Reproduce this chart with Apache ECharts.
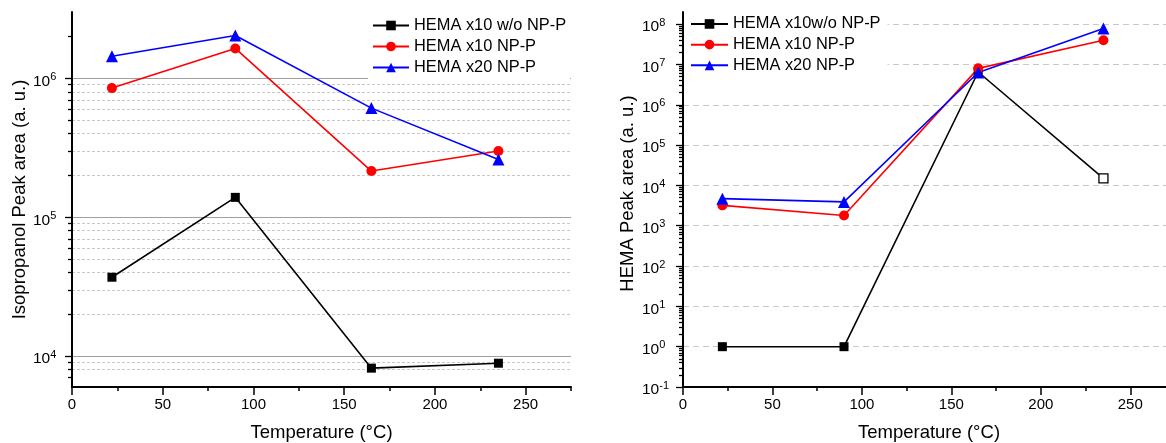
<!DOCTYPE html>
<html><head><meta charset="utf-8">
<script src="https://cdn.jsdelivr.net/npm/echarts@6/dist/echarts.min.js"></script>
<style>html,body{margin:0;padding:0;background:#fff}#c{width:1166px;height:443px}</style>
</head><body><div id="c"></div>
<script>
// ---------- data ----------
const temps = [22, 90, 165, 235];
const leftNames = ['HEMA x10 w/o NP-P', 'HEMA x10 NP-P', 'HEMA x20 NP-P'];
const rightNames = ['HEMA x10w/o NP-P', 'HEMA x10 NP-P', 'HEMA x20 NP-P'];
// Left chart: Isopropanol peak area
const isoBlack = [3.7e4, 1.39e5, 8.2e3, 8.9e3];
const isoRed = [8.5e5, 1.64e6, 2.15e5, 3.0e5];
const isoBlue = [1.44e6, 2.03e6, 6.1e5, 2.6e5];
// Right chart: HEMA peak area
const hemaBlack = [1, 1, 6.5e6, 1.5e4];
const hemaRed = [3.2e3, 1.8e3, 8.0e6, 4.0e7];
const hemaBlue = [4.7e3, 3.9e3, 6.3e6, 7.8e7];
// axes
const xMin = 0, xMax = 275, xMinorStep = 25, xMajorTicks = [0, 50, 100, 150, 200, 250];
const leftYMin = 6000, leftYMax = 3e6;
const rightYMin = 0.1, rightYMax = 2e8;
const xTitle = 'Temperature (°C)';
const leftYTitle = 'Isopropanol Peak area (a. u.)';
const rightYTitle = 'HEMA Peak area (a. u.)';

// ---------- helpers ----------
const FONT = '"Liberation Sans", Arial, sans-serif';
function decadeLogs(min, max) {
  const a = [];
  for (let e = Math.ceil(Math.log10(min) - 1e-9); e <= Math.floor(Math.log10(max) + 1e-9); e++) a.push(e);
  return a;
}
function minorLogs(min, max) {
  const a = [];
  for (let e = Math.floor(Math.log10(min)) - 1; e <= Math.ceil(Math.log10(max)); e++) {
    for (let k = 2; k <= 9; k++) {
      const v = k * Math.pow(10, e);
      if (v > min * 1.0001 && v < max * 0.9999) a.push(Math.log10(v));
    }
  }
  return a;
}
function powFmt(v) {
  const e = Math.log10(v), r = Math.round(e);
  if (Math.abs(e - r) > 1e-6) return '';
  return '{b|10}{s|' + (r < 0 ? '-' + (-r) : r) + '}';
}
const powRich = {
  b: { fontSize: 15.5, fontFamily: FONT, color: '#000', verticalAlign: 'bottom' },
  s: { fontSize: 11, fontFamily: FONT, color: '#000', verticalAlign: 'top', padding: [0, 0, 7, 0] }
};
const axisBlack = { show: true, onZero: false, lineStyle: { color: '#000', width: 2 } };

function mainX(gridIndex) {
  return {
    type: 'value', gridIndex, min: xMin, max: xMax, interval: xMinorStep, position: 'bottom',
    name: xTitle, nameLocation: 'middle', nameGap: 36,
    nameTextStyle: { fontSize: 18.5, fontFamily: FONT, color: '#000' },
    axisLine: axisBlack,
    axisTick: { show: true, length: 4, lineStyle: { color: '#000', width: 1.5 } },
    axisLabel: { margin: 10, fontSize: 15, fontFamily: FONT, color: '#000',
      formatter: v => (xMajorTicks.indexOf(v) >= 0 ? String(v) : '') },
    splitLine: { show: false }
  };
}
function helperX(gridIndex) {
  return {
    type: 'value', gridIndex, min: xMin, max: xMax, position: 'bottom',
    axisLine: { show: false, onZero: false }, axisLabel: { show: false }, splitLine: { show: false },
    axisTick: { show: true, length: 8, customValues: xMajorTicks, lineStyle: { color: '#000', width: 1.5 } }
  };
}
function mainY(gridIndex, min, max, name, nameGap, split, margin, namePad) {
  return {
    type: 'log', logBase: 10, gridIndex, min, max, position: 'left',
    name, nameLocation: 'middle', nameGap,
    nameTextStyle: { fontSize: 18.5, fontFamily: FONT, color: '#000', padding: namePad },
    axisLine: axisBlack,
    axisTick: { show: false },
    axisLabel: { margin, align: 'left', padding: [4, 0, 0, 0], formatter: powFmt, rich: powRich },
    splitLine: Object.assign({ showMinLine: false, showMaxLine: false }, split)
  };
}
function helperY(gridIndex, min, max, values, len, split) {
  return {
    type: 'value', gridIndex, min: Math.log10(min), max: Math.log10(max), position: 'left',
    axisLine: { show: false, onZero: false }, axisLabel: { show: false },
    axisTick: { show: true, length: len, customValues: values, lineStyle: { color: '#000', width: 1.3 } },
    splitLine: split || { show: false }
  };
}
function lineSeries(name, xi, yi, vals, color, symbol, size, hollowLast) {
  return {
    type: 'line', name, xAxisIndex: xi, yAxisIndex: yi,
    data: vals.map((v, i) => {
      const item = { value: [temps[i], v] };
      if (hollowLast && i === vals.length - 1) item.itemStyle = { color: '#fff', borderColor: color, borderWidth: 1.3 };
      return item;
    }),
    symbol, symbolSize: size, showAllSymbol: true,
    lineStyle: { color, width: 1.6 }, itemStyle: { color, opacity: 1 },
    emphasis: { disabled: true }, z: 3
  };
}

const option = {
  animation: false,
  backgroundColor: '#fff',
  grid: [
    { left: 72, top: 12, bottom: 56, width: 499, containLabel: false, outerBoundsMode: 'none' },
    { left: 683, top: 12, bottom: 56, width: 492, containLabel: false, outerBoundsMode: 'none' }
  ],
  xAxis: [mainX(0), helperX(0), mainX(1), helperX(1)],
  yAxis: [
    mainY(0, leftYMin, leftYMax, leftYTitle, 43,
      { show: true, lineStyle: { color: '#a0a0a0', width: 1, type: 'solid' } }, 39, [0, 0, 0, 0]),
    helperY(0, leftYMin, leftYMax, decadeLogs(leftYMin, leftYMax), 7),
    helperY(0, leftYMin, leftYMax, minorLogs(leftYMin, leftYMax), 4,
      { show: true, showMinLine: false, showMaxLine: false, lineStyle: { color: '#c8c8c8', width: 1, type: [3, 2] } }),
    mainY(1, rightYMin, rightYMax, rightYTitle, 46,
      { show: true, lineStyle: { color: '#c8c8c8', width: 1.2, type: [6, 4] } }, 41, [0, 0, 0, 12]),
    helperY(1, rightYMin, rightYMax, decadeLogs(rightYMin, rightYMax), 7),
    helperY(1, rightYMin, rightYMax, minorLogs(rightYMin, rightYMax), 4)
  ],
  legend: [
    {
      orient: 'vertical', left: 368, top: 11, padding: [4, 4, 4, 4], itemGap: 0,
      backgroundColor: '#fff', itemWidth: 36, itemHeight: 12, itemTextGap: 6,
      textStyle: { fontSize: 16.4, fontFamily: FONT, color: '#000', lineHeight: 21 },
      data: leftNames, selectedMode: false
    },
    {
      orient: 'vertical', left: 684, top: 7.6, padding: [6, 7, 4, 6], itemGap: 0,
      backgroundColor: '#fff', itemWidth: 37, itemHeight: 12, itemTextGap: 6,
      textStyle: { fontSize: 16.4, fontFamily: FONT, color: '#000', lineHeight: 20.7 },
      data: rightNames, selectedMode: false
    }
  ],
  series: [
    lineSeries(leftNames[0], 0, 0, isoBlack, '#000000', 'rect', 9),
    lineSeries(leftNames[1], 0, 0, isoRed, '#ff0000', 'circle', 10),
    lineSeries(leftNames[2], 0, 0, isoBlue, '#0000ff', 'triangle', 12),
    lineSeries(rightNames[0], 2, 3, hemaBlack, '#000000', 'rect', 9, true),
    lineSeries(rightNames[1], 2, 3, hemaRed, '#ff0000', 'circle', 10),
    lineSeries(rightNames[2], 2, 3, hemaBlue, '#0000ff', 'triangle', 12)
  ]
};
const chart = echarts.init(document.getElementById('c'), null, { renderer: 'canvas' });
chart.setOption(option);
</script>
</body></html>
